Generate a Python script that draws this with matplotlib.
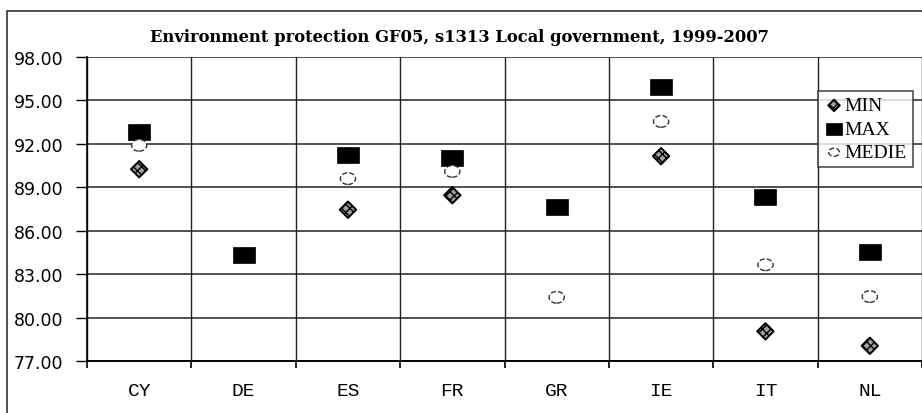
import numpy as np
import matplotlib.pyplot as plt
from matplotlib.path import Path
from matplotlib.patches import Rectangle

# --- DATA ---
countries = ["CY", "DE", "ES", "FR", "GR", "IE", "IT", "NL"]
min_vals = [90.25, np.nan, 87.45, 88.45, np.nan, 91.15, 79.05, 78.05]
max_vals = [92.85, 84.35, 91.25, 91.05, 87.65, 95.9, 88.35, 84.5]
medie_vals = [91.9, np.nan, 89.6, 90.1, 81.4, 93.55, 83.65, 81.45]
yticks = [77, 80, 83, 86, 89, 92, 95, 98]

x = np.arange(len(countries))

# marker shapes (wide square + flat ellipse, like the excel chart)
rect_mk = Path([(-1.35, -1), (1.35, -1), (1.35, 1), (-1.35, 1), (-1.35, -1)],
               [Path.MOVETO, Path.LINETO, Path.LINETO, Path.LINETO, Path.CLOSEPOLY])
circ = Path.unit_circle()
ellipse_mk = Path(circ.vertices * [1.3, 1.0], circ.codes)

# --- PLOT ---
fig = plt.figure(figsize=(9.22, 4.14), dpi=100)
ax = fig.add_axes([87 / 922, 1 - 362 / 414, 835 / 922, 304 / 414])

# outer chart frame
fig.patches.append(Rectangle((7 / 922, -0.1), 1.0, 1 - 12 / 414 + 0.1,
                             transform=fig.transFigure, fill=False,
                             edgecolor="#333333", linewidth=1.2))

ax.scatter(x, min_vals, marker="D", s=70, facecolor="#a0a0a0",
           edgecolor="black", linewidth=1.4, hatch="xxxx", zorder=3, label="MIN")
ax.scatter(x, max_vals, marker=rect_mk, s=260, facecolor="black",
           edgecolor="black", linewidth=0.5, zorder=3, label="MAX")
ax.scatter(x, medie_vals, marker=ellipse_mk, s=120, facecolor="white",
           edgecolor="#333333", linewidth=1.0, linestyle="--", zorder=3, label="MEDIE")

ax.set_xlim(-0.5, len(countries) - 0.5)
ax.set_ylim(77, 98)
ax.set_yticks(yticks)
ax.set_yticklabels([f"{v:.2f}" for v in yticks], fontsize=12.5,
                   fontfamily="DejaVu Sans")
ax.set_xticks(x)
ax.set_xticklabels(countries, fontsize=14, fontfamily="Liberation Mono")
ax.set_xticks(np.arange(len(countries) + 1) - 0.5, minor=True)
ax.tick_params(axis="x", which="major", length=0, pad=15)
ax.tick_params(axis="x", which="minor", length=5, width=1.2, direction="out")
ax.tick_params(axis="y", length=8, width=1, pad=9)

ax.grid(True, axis="y", color="#222222", linewidth=1.1)
ax.grid(True, axis="x", which="minor", color="#222222", linewidth=1.0)
ax.set_axisbelow(True)
for s in ["top", "right"]:
    ax.spines[s].set_visible(False)
ax.spines["left"].set_linewidth(1.2)
ax.spines["bottom"].set_linewidth(1.4)

fig.text(0.498, 1 - 38 / 414, "Environment protection GF05, s1313 Local government, 1999-2007",
         ha="center", va="center", fontsize=11.8, fontweight="bold",
         fontfamily="DejaVu Serif")

leg = ax.legend(loc="upper right", bbox_to_anchor=(0.989, 0.888),
                prop={"family": "Liberation Serif", "size": 14},
                frameon=True, fancybox=False, shadow=False, markerscale=0.7,
                handletextpad=0.0, handlelength=1.1, borderpad=0.3,
                labelspacing=0.3, borderaxespad=0)
leg.get_frame().set_edgecolor("#222222")
leg.get_frame().set_linewidth(1.2)

plt.savefig("out.png", dpi=100)
